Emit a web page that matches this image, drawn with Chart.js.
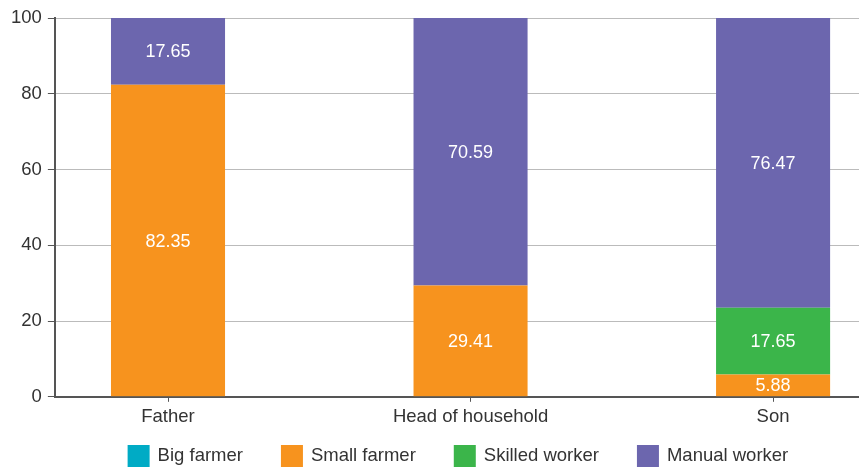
<!DOCTYPE html>
<html>
<head>
<meta charset="utf-8">
<script src="https://cdn.jsdelivr.net/npm/chart.js@4"></script>
<style>
  html, body { margin: 0; padding: 0; background: #fff; }
  #wrap { width: 859px; height: 467px; position: relative; }
</style>
</head>
<body>
<div id="wrap"><canvas id="chart"></canvas></div>
<script>
const categories = ['Father', 'Head of household', 'Son'];
const seriesNames = ['Big farmer', 'Small farmer', 'Skilled worker', 'Manual worker'];
const bigFarmer = [0, 0, 0];
const smallFarmer = [82.35, 29.41, 5.88];
const skilledWorker = [0, 0, 17.65];
const manualWorker = [17.65, 70.59, 76.47];
const colors = ['#00abc5', '#f7931e', '#3bb54a', '#6c66ae'];
const yTicks = [0, 20, 40, 60, 80, 100];

const fontFamily = '"Liberation Sans", Arial, sans-serif';
const allSeries = [bigFarmer, smallFarmer, skilledWorker, manualWorker];

// values written in the middle of each segment
const barLabels = {
    id: 'barLabels',
    afterDatasetsDraw(chart) {
        const ctx = chart.ctx;
        ctx.save();
        ctx.fillStyle = '#fff';
        ctx.font = '18px ' + fontFamily;
        ctx.textAlign = 'center';
        ctx.textBaseline = 'middle';
        chart.data.datasets.forEach((ds, di) => {
            chart.getDatasetMeta(di).data.forEach((bar, i) => {
                const v = ds.data[i];
                if (!v) return;
                ctx.fillText(v.toFixed(2), bar.x, (bar.y + bar.base) / 2 + 1);
            });
        });
        ctx.restore();
    }
};

// legend row under the axis (square swatches, wide gaps)
const bottomLegend = {
    id: 'bottomLegend',
    afterDraw(chart) {
        const ctx = chart.ctx;
        const box = 22, gap = 8, spacing = 38;
        ctx.save();
        ctx.font = '18.5px ' + fontFamily;
        const widths = seriesNames.map(n => box + gap + ctx.measureText(n).width);
        const total = widths.reduce((a, b) => a + b, 0) + spacing * (widths.length - 1);
        const area = chart.chartArea;
        let x = (area.left + area.right) / 2 - total / 2 + 1;
        const cy = 456;
        ctx.textBaseline = 'middle';
        ctx.textAlign = 'left';
        seriesNames.forEach((n, k) => {
            ctx.fillStyle = colors[k];
            ctx.fillRect(x, cy - box / 2, box, box);
            ctx.fillStyle = '#333';
            ctx.fillText(n, x + box + gap, cy);
            x += widths[k] + spacing;
        });
        ctx.restore();
    }
};

new Chart(document.getElementById('chart'), {
    type: 'bar',
    data: {
        labels: categories.map((c, i) => i),
        datasets: allSeries.map((d, k) => ({
            label: seriesNames[k],
            data: d,
            backgroundColor: colors[k],
            borderWidth: 0,
            barPercentage: 0.377,
            categoryPercentage: 1
        }))
    },
    options: {
        responsive: true,
        maintainAspectRatio: false,
        animation: false,
        layout: { padding: { left: 5, right: 0, top: 18, bottom: 35 } },
        scales: {
            x: {
                type: 'linear',
                stacked: true,
                offset: false,
                min: -0.374,
                max: 2.284,
                afterBuildTicks(axis) { axis.ticks = categories.map((c, i) => ({ value: i })); },
                grid: { display: true, offset: false, drawOnChartArea: false, tickLength: 5, tickColor: '#555' },
                border: { color: '#555', width: 2 },
                ticks: {
                    color: '#333',
                    font: { family: fontFamily, size: 18.5 },
                    padding: 4,
                    callback: v => categories[v]
                }
            },
            y: {
                stacked: true,
                min: 0,
                max: 100,
                afterBuildTicks(axis) { axis.ticks = yTicks.map(v => ({ value: v })); },
                grid: { color: '#bbb', tickColor: '#555', tickLength: 7 },
                border: { color: '#555', width: 2 },
                ticks: { color: '#333', font: { family: fontFamily, size: 18.5 }, padding: 6 }
            }
        },
        plugins: {
            legend: { display: false },
            tooltip: { enabled: false }
        }
    },
    plugins: [barLabels, bottomLegend]
});
</script>
</body>
</html>
